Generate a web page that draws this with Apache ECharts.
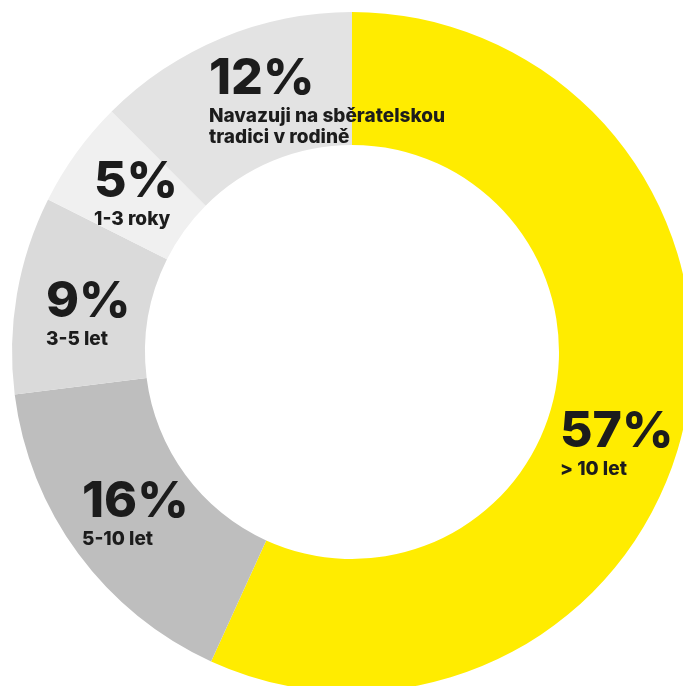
<!DOCTYPE html>
<html>
<head>
<meta charset="utf-8">
<script src="https://cdn.jsdelivr.net/npm/echarts@6/dist/echarts.min.js"></script>
<style>
html,body{margin:0;padding:0;background:#fff;}
#c{width:683px;height:686px;}
</style>
</head>
<body>
<div id="c"></div>
<script>
var categories = ["> 10 let", "5-10 let", "3-5 let", "1-3 roky", "Navazuji na sběratelskou\ntradici v rodině"];
var shownPercent = [57, 16, 9, 5, 12];
var values = [56.8, 16.2, 9.4, 5.1, 12.5];
var colors = ["#FFEC00", "#BEBEBE", "#DADADA", "#F0F0F0", "#E3E3E3"];

var labelPos = [[560, 405], [82, 475], [46, 275], [94, 155], [209, 52]];

var chart = echarts.init(document.getElementById('c'), null, {renderer: 'canvas'});
chart.setOption({
  animation: false,
  series: [{
    type: 'pie',
    center: [352, 352],
    radius: [207, 340],
    startAngle: 90,
    clockwise: true,
    silent: true,
    data: categories.map(function (n, i) {
      return {name: n, value: values[i], shown: shownPercent[i], itemStyle: {color: colors[i]}};
    }),
    label: {
      show: true,
      position: 'inside',
      formatter: function (p) {
        return '{a|' + shownPercent[p.dataIndex] + '%}\n' + p.name.split('\n').map(function (s) { return '{b|' + s + '}'; }).join('\n');
      },
      rich: {
        a: {fontFamily: 'Inter', fontSize: 50, fontWeight: 800, color: '#1c1c1c', lineHeight: 54, align: 'left'},
        b: {fontFamily: 'Inter', fontSize: 19, fontWeight: 800, color: '#1c1c1c', lineHeight: 21, align: 'left'}
      }
    },
    labelLine: {show: false},
    labelLayout: function (params) {
      var p = labelPos[params.dataIndex];
      return {x: p[0], y: p[1], align: 'left', verticalAlign: 'top'};
    }
  }]
});
</script>
</body>
</html>
